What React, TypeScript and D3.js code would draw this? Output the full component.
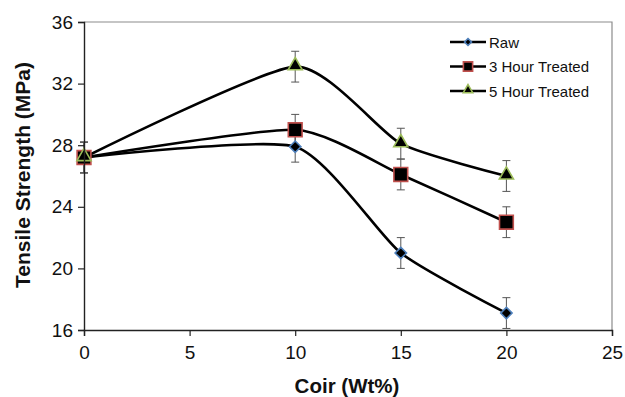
import { useEffect, useRef } from 'react';
import * as d3 from 'd3';

const coir = [0, 10, 15, 20];
const rawStrength = [27.2, 27.9, 21.0, 17.1];
const treated3h = [27.2, 29.0, 26.1, 23.0];
const treated5h = [27.2, 33.1, 28.1, 26.0];
const errorBar = [1, 1, 1, 1];
const seriesNames = ['Raw', '3 Hour Treated', '5 Hour Treated'];
const xTicks = [0, 5, 10, 15, 20, 25];
const yTicks = [16, 20, 24, 28, 32, 36];

export default function App() {
  const svgRef = useRef<SVGSVGElement>(null);

  useEffect(() => {
    if (!svgRef.current) return;
    const root = d3.select(svgRef.current);
    root.selectAll('*').remove();

    const margin = { top: 22, right: 13, bottom: 67, left: 84 };
    const width = 625 - margin.left - margin.right;
    const height = 397 - margin.top - margin.bottom;
    const font = 'Liberation Sans, Arial, sans-serif';

    const svg = root.append('g')
      .attr('transform', `translate(${margin.left},${margin.top})`);

    const x = d3.scaleLinear().domain([0, 25]).range([0, width]);
    const y = d3.scaleLinear().domain([16, 36]).range([height, 0]);

    // frame (top/right grey)
    svg.append('path')
      .attr('d', `M0,0H${width}V${height}`)
      .attr('fill', 'none')
      .attr('stroke', '#8c8c8c')
      .attr('stroke-width', 1.2);

    const series = [
      { name: seriesNames[0], values: rawStrength, stroke: '#4f81bd', shape: 'diamond' },
      { name: seriesNames[1], values: treated3h, stroke: '#c0504d', shape: 'square' },
      { name: seriesNames[2], values: treated5h, stroke: '#9bbb59', shape: 'triangle' },
    ];

    const line = d3.line<number>()
      .x((_, i) => x(coir[i]))
      .y(d => y(d))
      .curve(d3.curveCardinal.tension(0.4));

    // lines
    series.forEach(s => {
      svg.append('path')
        .attr('d', line(s.values))
        .attr('fill', 'none')
        .attr('stroke', '#000')
        .attr('stroke-width', 2.6);
    });

    // error bars
    series.forEach(s => {
      s.values.forEach((v, i) => {
        const cx = x(coir[i]);
        const g = svg.append('g').attr('stroke', '#555').attr('stroke-width', 1);
        g.append('line').attr('x1', cx).attr('x2', cx)
          .attr('y1', y(v - errorBar[i])).attr('y2', y(v + errorBar[i]));
        [v - errorBar[i], v + errorBar[i]].forEach(e => {
          g.append('line').attr('x1', cx - 4).attr('x2', cx + 4)
            .attr('y1', y(e)).attr('y2', y(e));
        });
      });
    });

    const symbolOf = (shape: string, size: number) => {
      if (shape === 'diamond') return d3.symbol(d3.symbolDiamond2, size * 0.55)();
      if (shape === 'square') return d3.symbol(d3.symbolSquare, size)();
      return d3.symbol(d3.symbolTriangle2, size * 0.75)();
    };

    const drawMarker = (g: any, shape: string, stroke: string, cx: number, cy: number, size: number) => {
      g.append('path')
        .attr('d', symbolOf(shape, size))
        .attr('transform', `translate(${cx},${cy})${shape === 'triangle' ? ' translate(0,-1)' : ''}`)
        .attr('fill', '#000')
        .attr('stroke', stroke)
        .attr('stroke-width', 1.6);
    };

    series.forEach(s => {
      s.values.forEach((v, i) => {
        drawMarker(svg, s.shape, s.stroke, x(coir[i]), y(v), s.shape === 'diamond' ? 150 : 190);
      });
    });

    // axes
    const yAxis = svg.append('g')
      .call(d3.axisLeft(y).tickValues(yTicks).tickSize(6).tickFormat(d3.format('d')));
    const xAxis = svg.append('g')
      .attr('transform', `translate(0,${height})`)
      .call(d3.axisBottom(x).tickValues(xTicks).tickSize(6).tickFormat(d3.format('d')));

    [xAxis, yAxis].forEach(ax => {
      ax.select('.domain').attr('stroke', '#222').attr('stroke-width', 1.4);
      ax.selectAll('.tick line').attr('stroke', '#222').attr('stroke-width', 1.2);
      ax.selectAll('text')
        .attr('fill', '#111')
        .attr('font-family', font)
        .attr('font-size', '19px');
    });
    yAxis.selectAll('text').attr('x', -11);
    xAxis.selectAll('text').attr('y', 16);

    // axis titles
    svg.append('text')
      .attr('x', width / 2 - 1)
      .attr('y', height + 63)
      .attr('text-anchor', 'middle')
      .attr('font-family', font)
      .attr('font-weight', 'bold')
      .attr('font-size', '20.5px')
      .attr('fill', '#111')
      .text('Coir (Wt%)');

    svg.append('text')
      .attr('transform', 'rotate(-90)')
      .attr('x', -(175 - margin.top))
      .attr('y', -54)
      .attr('text-anchor', 'middle')
      .attr('font-family', font)
      .attr('font-weight', 'bold')
      .attr('font-size', '21px')
      .attr('fill', '#111')
      .text('Tensile Strength (MPa)');

    // legend
    const legend = svg.append('g').attr('transform', `translate(${width - 162}, 20)`);
    series.forEach((s, i) => {
      const row = legend.append('g').attr('transform', `translate(0, ${i * 24.5})`);
      row.append('line')
        .attr('x1', 0).attr('x2', 36)
        .attr('stroke', '#000').attr('stroke-width', 2.6);
      drawMarker(row, s.shape, s.stroke, 18, 0, s.shape === 'diamond' ? 55 : 85);
      row.append('text')
        .attr('x', 39)
        .attr('y', 5.5)
        .attr('font-family', font)
        .attr('font-size', '15px')
        .attr('fill', '#111')
        .text(s.name);
    });
  }, []);

  return <svg ref={svgRef} width={625} height={397} style={{ display: 'block', position: 'absolute', left: 0, top: 0, background: '#fff' }} />;
}
